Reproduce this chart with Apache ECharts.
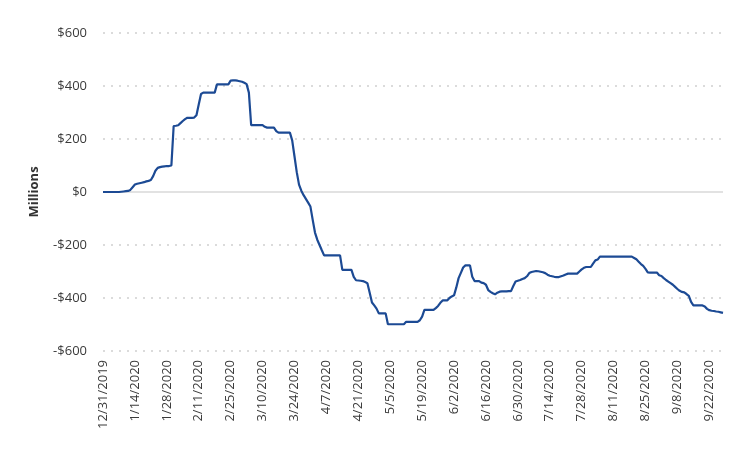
<!DOCTYPE html>
<html>
<head>
<meta charset="utf-8">
<script src="https://cdn.jsdelivr.net/npm/echarts@6/dist/echarts.min.js"></script>
<style>html,body{margin:0;padding:0;background:#fff}#c{width:748px;height:468px}</style>
</head>
<body>
<div id="c"></div>
<script>
// Category settings: daily dates from 12/31/2019
var startDate = [2019, 11, 31];
var dayCount = 273;
// Daily values (millions of $)
var values = [
0,0,0,0,0,0,0,0,1,2,3,4,8,18,28,31,33,35,37,40,
42,45,60,80,91,94,96,97,98,98,100,249,250,252,260,268,275,280,280,280,
281,290,330,370,375,375,375,375,375,375,406,406,406,406,406,406,420,421,421,420,
418,416,412,407,375,252,252,252,252,252,252,246,243,243,243,243,230,224,224,224,
224,224,224,195,135,75,28,5,-12,-26,-40,-55,-105,-153,-180,-200,-220,-239,-239,-239,
-239,-239,-239,-239,-239,-294,-294,-294,-294,-294,-320,-333,-334,-335,-336,-340,-344,-380,-417,-428,
-440,-458,-458,-458,-458,-499,-499,-499,-499,-499,-499,-499,-499,-490,-490,-490,-490,-490,-490,-484,
-470,-445,-445,-445,-445,-445,-438,-430,-418,-409,-409,-409,-400,-394,-390,-360,-325,-305,-285,-277,
-277,-277,-320,-336,-336,-336,-342,-344,-350,-370,-377,-382,-386,-380,-376,-375,-375,-375,-374,-374,
-355,-338,-335,-332,-328,-325,-318,-306,-302,-300,-298,-299,-301,-303,-306,-312,-316,-318,-320,-321,
-321,-318,-315,-311,-308,-308,-308,-308,-308,-300,-292,-286,-283,-283,-283,-270,-258,-255,-244,-244,
-244,-244,-244,-244,-244,-244,-244,-244,-244,-244,-244,-244,-244,-249,-254,-263,-272,-279,-290,-303,
-304,-304,-304,-304,-314,-317,-325,-332,-338,-344,-350,-358,-366,-373,-377,-379,-385,-392,-415,-428,
-428,-428,-428,-428,-432,-441,-446,-448,-449,-451,-452,-454,-456
];
var yTicks = [-600, -400, -200, 0, 200, 400, 600];

var categories = [];
for (var i = 0; i < dayCount; i++) {
  var d = new Date(startDate[0], startDate[1], startDate[2] + i);
  categories.push((d.getMonth() + 1) + '/' + d.getDate() + '/' + d.getFullYear());
}

var chart = echarts.init(document.getElementById('c'), null, {renderer: 'canvas'});
chart.setOption({
  animation: false,
  textStyle: {fontFamily: '"Open Sans", sans-serif'},
  grid: {left: 103, right: 25, top: 33, bottom: 117},
  xAxis: {
    type: 'category',
    data: categories,
    boundaryGap: false,
    axisLine: {show: false},
    axisTick: {show: false},
    axisLabel: {
      interval: 13,
      rotate: 90,
      fontSize: 13,
      color: '#3a3a3a',
      margin: 9,
      fontFamily: '"Open Sans", sans-serif'
    },
    splitLine: {show: false}
  },
  yAxis: {
    type: 'value',
    min: yTicks[0],
    max: yTicks[yTicks.length - 1],
    interval: 200,
    name: 'Millions',
    nameLocation: 'middle',
    nameGap: 62,
    nameRotate: 90,
    nameTextStyle: {fontSize: 13, fontWeight: 'bold', color: '#333', fontFamily: '"Open Sans", sans-serif'},
    axisLine: {show: false},
    axisTick: {show: false},
    axisLabel: {
      fontSize: 13,
      color: '#3a3a3a',
      margin: 16,
      fontFamily: '"Open Sans", sans-serif',
      formatter: function (v) { return (v < 0 ? '-$' : '$') + Math.abs(v); }
    },
    splitLine: {show: true, lineStyle: {color: '#cfcfcf', width: 1.5, type: [2, 6]}}
  },
  series: [{
    type: 'line',
    data: values,
    showSymbol: false,
    symbol: 'none',
    lineStyle: {color: '#1c4a94', width: 2.2},
    itemStyle: {color: '#1c4a94'},
    z: 3,
    markLine: {
      silent: true,
      symbol: 'none',
      label: {show: false},
      lineStyle: {color: '#e2e2e2', width: 2, type: 'solid'},
      data: [{yAxis: 0}],
      z: 1
    }
  }]
});
</script>
</body>
</html>
